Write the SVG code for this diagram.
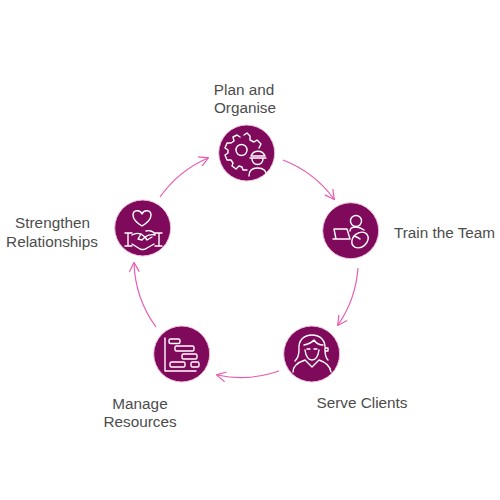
<svg xmlns="http://www.w3.org/2000/svg" width="500" height="500" viewBox="0 0 500 500">
<style>
.n{fill:#7f0a5c;stroke:#f0c4dd;stroke-width:1}
.i{fill:none;stroke:#fff;stroke-width:1.4;stroke-linecap:round;stroke-linejoin:round}
.c{fill:none;stroke:#e85cae;stroke-width:1.2}
.t{font-family:"Liberation Sans",Arial,sans-serif;font-size:15.300px;fill:#4c4c4c;text-anchor:middle}
</style>
<defs><marker id="a" viewBox="0 0 10 10" refX="9" refY="5" markerWidth="11" markerHeight="11" orient="auto" markerUnits="userSpaceOnUse"><path d="M1 0.5L9.500 5L1 9.500" fill="none" stroke="#e85cae" stroke-width="1.100"/></marker></defs>
<rect width="500" height="500" fill="#fff"/>
<g id="connectors">
<path class="c" marker-end="url(#a)" d="M283 160A115 115 0 0 1 334 199"/>
<path class="c" marker-end="url(#a)" d="M358 268A115 115 0 0 1 338 325"/>
<path class="c" marker-end="url(#a)" d="M279 371A115 115 0 0 1 217 375"/>
<path class="c" marker-end="url(#a)" d="M156 327A115 115 0 0 1 134 263"/>
<path class="c" marker-end="url(#a)" d="M160 197A115 115 0 0 1 208 158"/>
</g>
<g id="plan">
<circle class="n" cx="246.700" cy="153" r="28"/>
<path class="i" d="M244 135l3-2l3 3l0 4l4 2l3-2l4 4l-2 4M240 137l-3-2l-4 2l1 4l-3 2l-4 0l-2 5l3 2l0 3l-3 2l2 5l4 0l2 3l-1 3l4 3l3-3l3 1l1 3l4 0"/>
<circle class="i" cx="241.500" cy="150" r="5.500"/>
<path class="i" d="M251 156a7.500 7.500 0 0 1 14 0zM250 158h16M252 159a5.500 5.500 0 0 0 11 0M249 176c0-6 3-8 8.500-8s9 2 9 8"/>
</g>
<g id="train">
<circle class="n" cx="350.700" cy="230.700" r="28"/>
<circle class="i" cx="356" cy="221" r="5.500"/>
<path class="i" d="M350 231c0-3 3-4 6-4s5 1 8 3M334 229h13l3 10h-14zM333 239h3"/>
<ellipse class="i" cx="360" cy="240" rx="9" ry="7" transform="rotate(-40 360 240)"/>
<path class="i" d="M354 236c3 1 5 2 6 3"/>
</g>
<g id="serve">
<circle class="n" cx="311.700" cy="354" r="28"/>
<path class="i" d="M299 350c-1-10 5-15 13-15s14 5 13 15M304 345c4-1 8-2 10-5c2 3 6 5 9 5M305 350c1 7 4 10 7 10s6-3 7-10M299 350c0 5-1 8-4 11M325 350c0 5 1 8 3 10M325 351h3v-3h-3M293 372c0-7 6-10 12-12l7 7l7-7c6 2 11 5 12 12M307 349h3M314 349h3"/>
</g>
<g id="manage">
<circle class="n" cx="181.700" cy="354" r="28"/>
<path class="i" d="M165 338V371H196" stroke-width="1.800"/>
<rect class="i" x="169" y="339" width="11" height="4.500" rx="1.500"/>
<rect class="i" x="175" y="346" width="19" height="5" rx="1.500"/>
<rect class="i" x="182" y="354" width="15" height="5" rx="1.500"/>
<rect class="i" x="170" y="362" width="15" height="5" rx="1.500"/>
<rect class="i" x="191" y="362" width="8" height="5" rx="1.500"/>
</g>
<g id="strengthen">
<circle class="n" cx="142.700" cy="228" r="28"/>
<path class="i" d="M142 226c-5-3-9-7-9-11c0-5 7-6 9-1c2-5 9-4 9 1c0 4-4 8-9 11zM125 233h7M125 246h7M128 233v13M162 233h-7M162 246h-7M159 233v13M132 235c3-2 6-2 9-1l4 3c3-2 6-3 10-2M132 244l8 5c3 1 5 1 7-1l7-4M141 234l-3 5l4 1l3-3l2 3l5-3M146 231c3-1 7 0 9 3"/>
</g>
<g id="labels">
<text class="t" x="244" y="95">Plan and</text>
<text class="t" x="245" y="113">Organise</text>
<text class="t" x="444.500" y="238">Train the Team</text>
<text class="t" x="362" y="408">Serve Clients</text>
<text class="t" x="140" y="409">Manage</text>
<text class="t" x="140" y="427">Resources</text>
<text class="t" x="52.500" y="228">Strengthen</text>
<text class="t" x="52" y="247">Relationships</text>
</g>
</svg>
